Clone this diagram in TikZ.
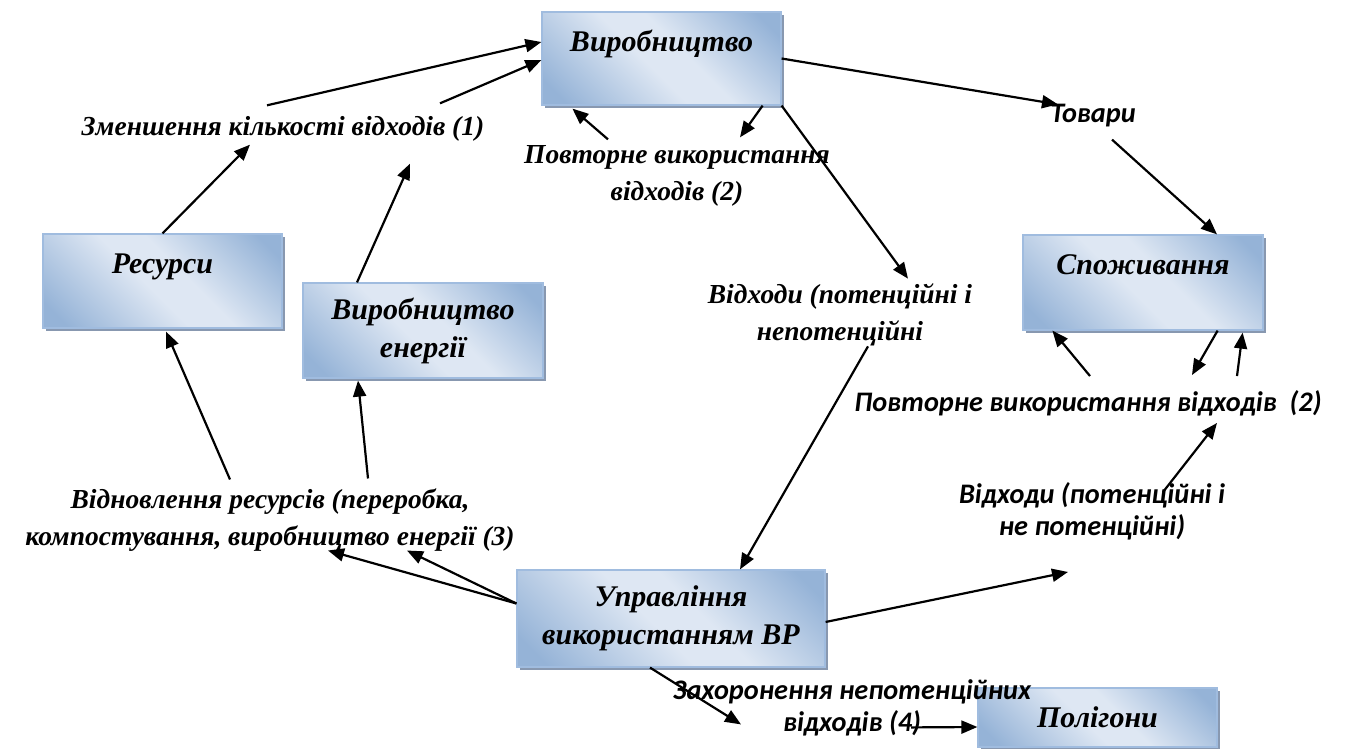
\documentclass[tikz,border=0pt]{standalone}
\usepackage{fontspec}
\setmainfont{Liberation Serif}
\newfontfamily\calibri{Carlito}
\usepackage{xcolor}
\usetikzlibrary{arrows.meta, positioning, calc, shadows}
\definecolor{boxlight}{RGB}{222,231,243}
\definecolor{boxdark}{RGB}{149,179,215}
\definecolor{boxline}{RGB}{160,188,223}
\definecolor{boxshadow}{RGB}{136,152,176}
\pgfdeclarehorizontalshading{boxshade}{100bp}{color(0bp)=(boxdark); color(20bp)=(boxdark); color(46bp)=(boxlight); color(56bp)=(boxlight); color(80bp)=(boxdark); color(100bp)=(boxdark)}

\begin{document}
\begin{tikzpicture}[x=1pt, y=-1pt,
  box/.style={draw=boxline, line width=1.2pt, shade, shading=boxshade, shading angle=45,
    minimum width=240pt, minimum height=95pt, inner sep=0pt, align=center,
    font=\fontsize{30}{38}\selectfont\bfseries\itshape,
    general shadow={fill=boxshadow, shadow xshift=3pt, shadow yshift=-3pt}},
  topbox/.style={text depth=35pt},
  lbl/.style={inner sep=0pt, align=center, font=\fontsize{27.5}{37}\selectfont\bfseries\itshape},
  clbl/.style={inner sep=0pt, align=center, font=\calibri\fontsize{28.3}{32}\selectfont\bfseries\itshape},
  arr/.style={-{Triangle[length=16pt, width=13pt]}, line width=2.2pt}]
  \useasboundingbox (0,0) rectangle (1355,749);
  \node[box, topbox, minimum width=239pt, minimum height=93pt] (vyr) at (661.5,58.5) {Виробництво};
  \node[box, topbox, minimum width=239pt, minimum height=94pt] (res) at (162.5,281) {Ресурси};
  \node[box] (ener) at (423,330.5) {Виробництво\\енергії};
  \node[box, topbox] (spoz) at (1143,282.5) {Споживання};
  \node[box, minimum width=308pt, minimum height=97pt] (upr) at (671,618.5) {Управління\\використанням ВР};
  \node[box, minimum width=239pt, minimum height=59pt] (polig) at (1097.5,717.5) {Полігони};
  \node[lbl] (zm) at (283,129) {Зменшення кількості відходів (1)};
  \node[lbl] (povt1) at (677,176) {Повторне використання\\відходів (2)};
  \node[clbl] (tov) at (1093,116) {Товари};
  \node[lbl] (vidh1) at (840,315) {Відходи (потенційні і\\непотенційні};
  \node[clbl] (povt2) at (1088,403) {Повторне використання відходів~~(2)};
  \node[lbl] (vidn) at (270,520) {Відновлення ресурсів (переробка,\\компостування, виробництво енергії (3)};
  \node[clbl] (vidh2) at (1092,511) {Відходи (потенційні і\\не потенційні)};
  \node[clbl] (zah) at (852,708) {Захоронення непотенційних\\відходів (4)};
  \draw[arr] ([xshift=-16pt, yshift=11pt]zm.north) -- ([yshift=16.5pt]vyr.west);
  \draw[arr] ([xshift=157pt, yshift=13pt]zm.north) -- ([yshift=-1.5pt]vyr.west);
  \draw[arr] (res.north) -- ([xshift=-33pt, yshift=-3pt]zm.south);
  \draw[arr] ([xshift=-66pt]ener.north) -- ([xshift=127pt, yshift=-22pt]zm.south);
  \draw[arr] ([xshift=-69pt, yshift=6pt]povt1.north) -- ([xshift=31pt, yshift=-3pt]vyr.south west);
  \draw[arr] ([xshift=-19pt]vyr.south east) -- ([xshift=63pt, yshift=8pt]povt1.north);
  \draw[arr] (vyr.south east) -- ([xshift=68pt, yshift=5pt]vidh1.north);
  \draw[arr] (vyr.east) -- ([xshift=-35pt]tov.north);
  \draw[arr] ([xshift=19pt, yshift=-12pt]tov.south) -- ([xshift=74pt]spoz.north);
  \draw[arr] ([xshift=2pt, yshift=14pt]povt2.north) -- ([xshift=30pt]spoz.south west);
  \draw[arr] ([xshift=-46pt]spoz.south east) -- ([xshift=104pt, yshift=15pt]povt2.north);
  \draw[arr] ([xshift=149pt, yshift=14pt]povt2.north) -- ([xshift=-21pt, yshift=-2pt]spoz.south east);
  \draw[arr] ([xshift=71pt, yshift=-10pt]vidh2.north) -- ([xshift=129pt, yshift=-7pt]povt2.south);
  \draw[arr] ([xshift=28pt]vidh1.south) -- ([xshift=69pt]upr.north);
  \draw[arr] ([yshift=-3.5pt]upr.east) -- ([xshift=-24pt, yshift=-32pt]vidh2.south);
  \draw[arr] ([yshift=15pt]upr.west) -- ([xshift=58pt, yshift=1pt]vidn.south);
  \draw[arr] ([yshift=15pt]upr.west) -- ([xshift=137pt, yshift=1pt]vidn.south);
  \draw[arr] ([xshift=-40pt, yshift=9pt]vidn.north) -- ([xshift=3.5pt, yshift=-3pt]res.south);
  \draw[arr] ([xshift=98pt, yshift=10pt]vidn.north) -- ([xshift=-65pt, yshift=-2pt]ener.south);
  \draw[arr] ([xshift=-21pt]upr.south) -- ([xshift=-111pt, yshift=12pt]zah.south);
  \draw[arr] ([xshift=59pt, yshift=9pt]zah.south) -- ([yshift=-9.5pt]polig.west);
\end{tikzpicture}
\end{document}
